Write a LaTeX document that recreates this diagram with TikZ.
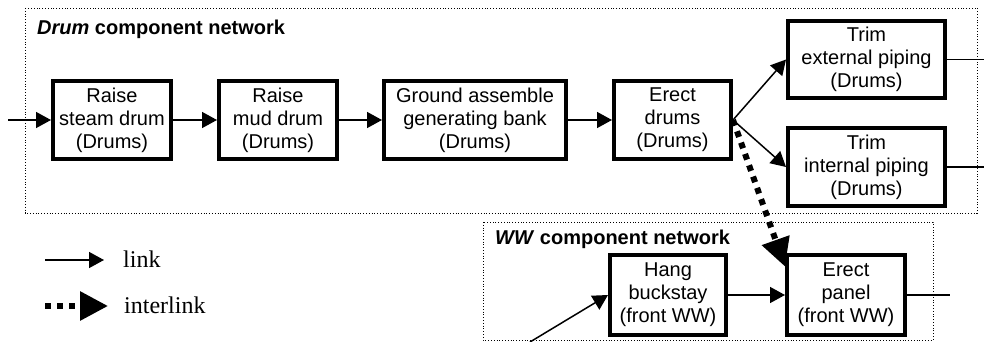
\documentclass[tikz,border=0pt]{standalone}
\usepackage{fontspec}
\setmainfont{Liberation Sans}
\newfontfamily\legendfont{Liberation Serif}
\usetikzlibrary{arrows.meta}

\begin{document}
\begin{tikzpicture}[x=1pt, y=-1pt,
    every node/.style={inner sep=0pt, font=\fontsize{20}{23}\selectfont},
    task/.style={draw, line width=4pt, align=center, minimum height=78pt},
    link/.style={line width=1.5pt, -{Triangle[length=15pt,width=16pt]}},
    interlink/.style={line width=6pt, dash pattern=on 6pt off 6pt, -{Triangle[length=28pt,width=28pt]}},
    plain/.style={line width=1.2pt},
    netbox/.style={line width=0.8pt, dotted},
    nettitle/.style={anchor=west, font=\fontsize{20}{23}\selectfont\bfseries},
    legend/.style={anchor=west, font=\legendfont\fontsize{24}{26}\selectfont}]

  \useasboundingbox (0,0) rectangle (984,342);

  % Component networks
  \draw[netbox] (25,8) rectangle (977,213);
  \draw[netbox] (483,222) rectangle (933,340);
  \node[nettitle] (drumtitle) at (37,29) {\textit{Drum} component network};
  \node[nettitle] (wwtitle) at (495,239) {\textit{WW} component network};

  % Drum tasks
  \foreach \name/\x/\w/\txt in {
      steam/112/118/{Raise\\steam drum\\(Drums)},
      mud/278/118/{Raise\\mud drum\\(Drums)},
      bank/475/182/{Ground assemble\\generating bank\\(Drums)},
      erect/672.5/117/{Erect\\drums\\(Drums)}} {
    \node[task, minimum width=\w pt] (\name) at (\x,120) {\txt};
  }
  \node[task, minimum width=157pt, minimum height=77pt] (ext) at (866.5,59.5) {Trim\\external piping\\(Drums)};
  \node[task, minimum width=157pt] (int) at (866.5,167) {Trim\\internal piping\\(Drums)};

  % WW tasks
  \node[task, minimum width=116pt, minimum height=80pt] (hang) at (668,295) {Hang\\buckstay\\(front WW)};
  \node[task, minimum width=118pt, minimum height=80pt] (panel) at (846,295) {Erect\\panel\\(front WW)};

  % Links
  \coordinate (drumin) at (8,120);
  \coordinate (hangin) at (530,342);
  \coordinate (extout) at (984,59.5);
  \coordinate (intout) at (984,167);
  \coordinate (panelout) at (950,295);
  \draw[link] (drumin) -- (steam.west);
  \draw[link] (steam) -- (mud);
  \draw[link] (mud) -- (bank);
  \draw[link] (bank) -- (erect);
  \draw[link] (erect.east) -- (ext.west);
  \draw[link] (erect.east) -- (int.west);
  \draw[link] (hangin) -- (hang.west);
  \draw[link] (hang) -- (panel);
  \draw[plain] (ext.east) -- (extout);
  \draw[plain] (int.east) -- (intout);
  \draw[plain] (panel.east) -- (panelout);

  % Interlink
  \draw[interlink] (erect.east) -- (panel.155);

  % Legend
  \coordinate (lk0) at (45,260);
  \coordinate (lk1) at (104,260);
  \coordinate (ilk0) at (45,306);
  \coordinate (ilk1) at (108,306);
  \draw[link] (lk0) -- (lk1);
  \draw[interlink] (ilk0) -- (ilk1);
  \node[legend] (lktxt) at (123,259) {link};
  \node[legend] (ilktxt) at (124,305) {interlink};
\end{tikzpicture}
\end{document}
